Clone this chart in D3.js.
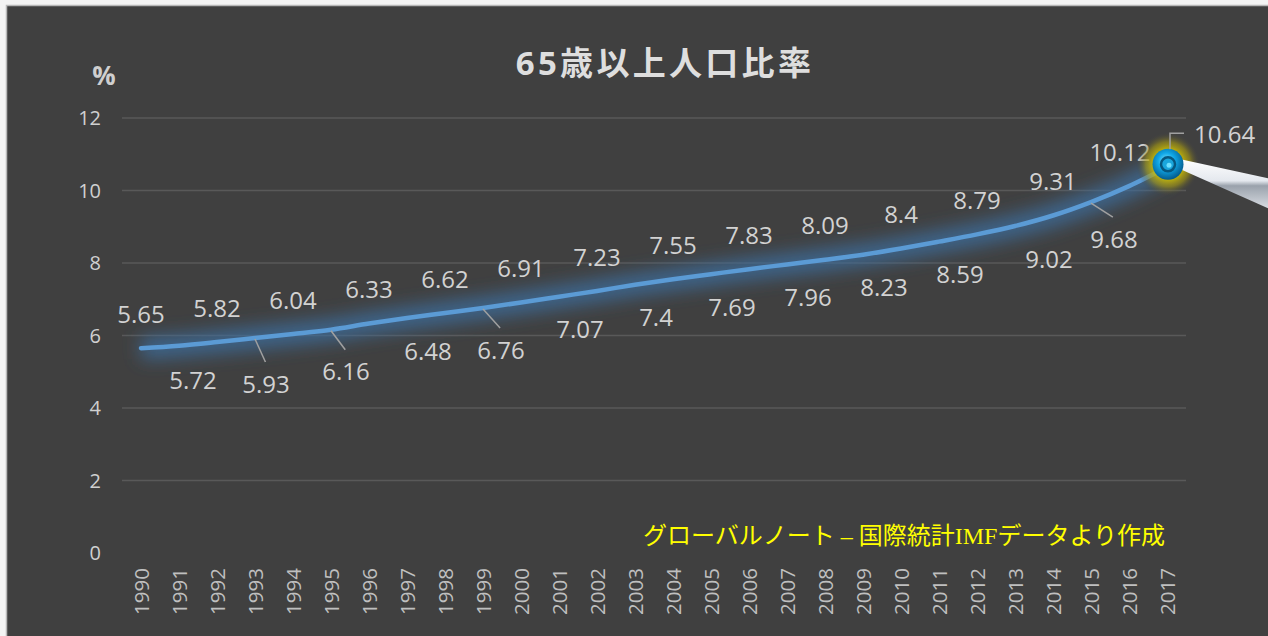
<!DOCTYPE html>
<html>
<meta charset='utf-8'>
<title>65歳以上人口比率</title>
<style>
  body { margin: 0; background: #f4f4f4; }
  svg { display: block; }
  text { font-family: 'Open Sans', 'Noto Sans CJK JP', sans-serif; }
</style>
<script src='https://d3js.org/d3.v7.min.js'></script>
<body>
<script>
// data
var years = ['1990','1991','1992','1993','1994','1995','1996','1997','1998','1999',
             '2000','2001','2002','2003','2004','2005','2006','2007','2008','2009',
             '2010','2011','2012','2013','2014','2015','2016','2017'];
var values = [5.65, 5.72, 5.82, 5.93, 6.04, 6.16, 6.33, 6.48, 6.62, 6.76,
              6.91, 7.07, 7.23, 7.4, 7.55, 7.69, 7.83, 7.96, 8.09, 8.23,
              8.4, 8.59, 8.79, 9.02, 9.31, 9.68, 10.12, 10.64];
var yTicks = [0, 2, 4, 6, 8, 10, 12];
var title = '65歳以上人口比率';
var unit = '%';
var source = 'グローバルノート – 国際統計IMFデータより作成';

var W = 1268, H = 636;
var svg = d3.select('body').append('svg').attr('width', W).attr('height', H);
var defs = svg.append('defs');

// dark panel
svg.append('rect')
   .attr('x', 6.5).attr('y', 5.5)
   .attr('width', W).attr('height', H)
   .attr('fill', '#404040')
   .attr('stroke', '#b8b8b8').attr('stroke-width', 1.5);

var x = d3.scaleBand().domain(years).range([122, 1186]);
var y = d3.scaleLinear().domain([0, 12]).range([553, 118]);
var cx = function(yr) { return x(yr) + x.bandwidth() / 2; };

// grid
svg.selectAll('.grid')
   .data(yTicks.filter(function(t) { return t > 0; }))
   .enter().append('line')
   .attr('x1', 122).attr('x2', 1186)
   .attr('y1', function(d) { return y(d); })
   .attr('y2', function(d) { return y(d); })
   .attr('stroke', '#595959').attr('stroke-width', 1.3);

// y tick labels
svg.selectAll('.ytick')
   .data(yTicks)
   .enter().append('text')
   .attr('x', 101)
   .attr('y', function(d) { return y(d); })
   .attr('dy', '0.36em')
   .attr('text-anchor', 'end')
   .attr('fill', '#d0d0d0')
   .style('font-size', '20px')
   .text(function(d) { return d; });

// x tick labels
svg.selectAll('.xtick')
   .data(years)
   .enter().append('text')
   .attr('transform', function(d) { return 'translate(' + (cx(d) + 1) + ',568) rotate(-90)'; })
   .attr('dy', '0.36em')
   .attr('text-anchor', 'end')
   .attr('fill', '#bfbfbf')
   .style('font-size', '20.5px')
   .text(function(d) { return d; });

// title and unit
svg.append('text')
   .attr('x', 665).attr('y', 75)
   .attr('text-anchor', 'middle')
   .attr('fill', '#dedede')
   .style('font-size', '33px').style('font-weight', 'bold')
   .style('letter-spacing', '3.3px')
   .text(title);

svg.append('text')
   .attr('x', 104).attr('y', 85)
   .attr('text-anchor', 'middle')
   .attr('fill', '#cfcfcf')
   .style('font-size', '26px').style('font-weight', 'bold')
   .text(unit);

// line with glow
var pts = years.map(function(yr, i) { return [cx(yr), y(values[i])]; });
var line = d3.line().curve(d3.curveCatmullRom.alpha(0.5));

var glow = defs.append('filter').attr('id', 'glow')
   .attr('x', '-10%').attr('y', '-60%').attr('width', '120%').attr('height', '220%');
glow.append('feGaussianBlur').attr('stdDeviation', 9);

svg.append('path')
   .attr('d', line(pts))
   .attr('fill', 'none')
   .attr('stroke', '#3d6c9c').attr('stroke-width', 22)
   .attr('stroke-opacity', 0.85)
   .attr('filter', 'url(#glow)');

svg.append('path')
   .attr('d', line(pts))
   .attr('fill', 'none')
   .attr('stroke', '#5b9bd5').attr('stroke-width', 4.5)
   .attr('stroke-linecap', 'round');

// data labels: even years above, odd years below, a few nudged by hand
var nudge = {
  '1991': {dx: 14, dy: 35},
  '1993': {dx: 11, dy: 46, leader: true},
  '1995': {dx: 15, dy: 42, leader: true},
  '1999': {dx: 18, dy: 42, leader: true},
  '2013': {dx: 34, dy: 33},
  '2015': {dx: 23, dy: 37, leader: true},
  '2016': {dx: -9, dy: -34}
};
var lab = years.map(function(yr, i) {
  var n = nudge[yr] || (i % 2 === 0 ? {dx: 0, dy: -34} : {dx: 21, dy: 33});
  return {yr: yr, v: values[i], px: cx(yr), py: y(values[i]), n: n};
});
var last = lab.pop();

svg.selectAll('.leader')
   .data(lab.filter(function(d) { return d.n.leader; }))
   .enter().append('line')
   .attr('x1', function(d) { return d.px; })
   .attr('y1', function(d) { return d.py + 1; })
   .attr('x2', function(d) { return d.px + d.n.dx * 0.95; })
   .attr('y2', function(d) { return d.py + d.n.dy - 22; })
   .attr('stroke', '#a0a0a0').attr('stroke-width', 1.5);

svg.selectAll('.lab')
   .data(lab)
   .enter().append('text')
   .attr('x', function(d) { return d.px + d.n.dx; })
   .attr('y', function(d) { return d.py + d.n.dy; })
   .attr('dy', '0.36em')
   .attr('text-anchor', 'middle')
   .attr('fill', '#d2d2d2')
   .style('font-size', '24px')
   .text(function(d) { return d.v; });

// last point: silver pin, glow and sphere
var pin = defs.append('linearGradient').attr('id', 'pin')
   .attr('x1', 0).attr('y1', 0).attr('x2', 0).attr('y2', 1);
pin.append('stop').attr('offset', '0%').attr('stop-color', '#ffffff');
pin.append('stop').attr('offset', '45%').attr('stop-color', '#e4e8ee');
pin.append('stop').attr('offset', '55%').attr('stop-color', '#9aa2ac');
pin.append('stop').attr('offset', '100%').attr('stop-color', '#d8dce2');

var halo = defs.append('radialGradient').attr('id', 'halo');
halo.append('stop').attr('offset', '40%').attr('stop-color', '#d8c800').attr('stop-opacity', 0.95);
halo.append('stop').attr('offset', '70%').attr('stop-color', '#a89a10').attr('stop-opacity', 0.6);
halo.append('stop').attr('offset', '100%').attr('stop-color', '#404040').attr('stop-opacity', 0);

var ball = defs.append('radialGradient').attr('id', 'ball')
   .attr('cx', '45%').attr('cy', '40%').attr('r', '60%');
ball.append('stop').attr('offset', '0%').attr('stop-color', '#8ee8ff');
ball.append('stop').attr('offset', '45%').attr('stop-color', '#10a8e8');
ball.append('stop').attr('offset', '100%').attr('stop-color', '#045a8c');

var bx = last.px + 1, by = last.py - 3;

svg.append('circle').attr('cx', bx).attr('cy', by).attr('r', 32)
   .attr('fill', 'url(#halo)');

svg.append('path')
   .attr('d', 'M' + (bx + 8) + ',' + (by - 6) + ' L' + W + ',' + (by + 14) +
              ' L' + W + ',' + (by + 44) + ' L' + (bx + 8) + ',' + (by + 3) + 'Z')
   .attr('fill', 'url(#pin)');

svg.append('circle').attr('cx', bx).attr('cy', by).attr('r', 15.5)
   .attr('fill', 'url(#ball)');
svg.append('circle').attr('cx', bx).attr('cy', by).attr('r', 7)
   .attr('fill', '#1aa6dc').attr('stroke', '#06577f').attr('stroke-width', 2.5);
svg.append('circle').attr('cx', bx + 1).attr('cy', by + 1).attr('r', 2.5)
   .attr('fill', '#6fe0ff');

svg.append('path')
   .attr('d', 'M' + (bx + 2) + ',' + (by - 15) + ' V' + (by - 31) + ' H' + (bx + 16))
   .attr('fill', 'none')
   .attr('stroke', '#a0a0a0').attr('stroke-width', 1.5);

svg.append('text')
   .attr('x', bx + 26).attr('y', by - 30)
   .attr('dy', '0.36em')
   .attr('fill', '#d2d2d2')
   .style('font-size', '24px')
   .text(last.v);

// source note
svg.append('text')
   .attr('x', 1165).attr('y', 544)
   .attr('text-anchor', 'end')
   .attr('fill', '#ffff00')
   .style('font-family', "'Liberation Serif', 'Noto Sans CJK JP', serif")
   .style('font-size', '24px')
   .text(source);
</script>
</body>
</html>
